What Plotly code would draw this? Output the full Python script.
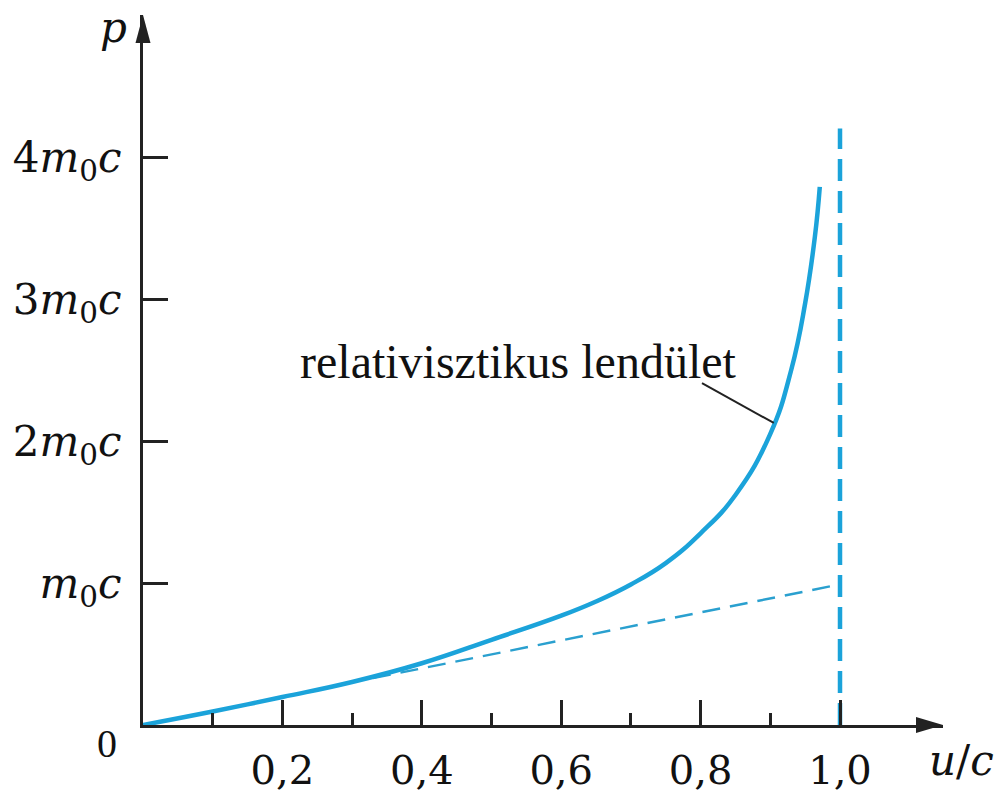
import plotly.graph_objects as go

# ---- data ----
u_rel = [0.0, 0.1, 0.2, 0.3, 0.4, 0.5, 0.6, 0.65, 0.7, 0.75, 0.8, 0.85, 0.9, 0.93, 0.95, 0.964, 0.971]
p_rel = [0.0, 0.095, 0.197, 0.303, 0.435, 0.6, 0.77, 0.87, 0.99, 1.14, 1.35, 1.62, 2.05, 2.5, 2.97, 3.44, 3.79]

u_cls = [0.33, 1.0]
p_cls = [0.33, 0.99]

u_lim = [1.0, 1.0]
p_lim = [0.0, 4.2]

x_tickvals = [0.2, 0.4, 0.6, 0.8, 1.0]
x_ticktext = ["0,2", "0,4", "0,6", "0,8", "1,0"]
x_minorvals = [0.1, 0.3, 0.5, 0.7, 0.9]
y_tickvals = [1, 2, 3, 4]
y_ticktext = ["<i>m</i><sub>0</sub><i>c</i>", "2<i>m</i><sub>0</sub><i>c</i>",
              "3<i>m</i><sub>0</sub><i>c</i>", "4<i>m</i><sub>0</sub><i>c</i>"]

label_text = "relativisztikus lendület"
label_pt = (0.802, 2.408)
label_end = (0.905, 2.127)

BLUE = "#1BA3DA"
INK = "#222222"
MATH = "DejaVu Serif"
X_MAX = 800 / 697
Y_MAX = 710 / 142

fig = go.Figure()
fig.add_trace(go.Scatter(x=u_cls, y=p_cls, mode="lines",
                         line=dict(color="#2AA0CF", width=2.4, dash="18px,10px"),
                         hoverinfo="skip"))
fig.add_trace(go.Scatter(x=u_lim, y=p_lim, mode="lines",
                         line=dict(color=BLUE, width=4.5, dash="22px,10px"),
                         hoverinfo="skip"))
fig.add_trace(go.Scatter(x=u_rel, y=p_rel, mode="lines",
                         line=dict(color=BLUE, width=4.5, shape="spline", smoothing=1.3),
                         hoverinfo="skip"))

fig.add_shape(type="line", xref="x", yref="y",
              x0=label_pt[0], y0=label_pt[1], x1=label_end[0], y1=label_end[1],
              line=dict(color=INK, width=2))

# arrow heads
fig.add_shape(type="path", xref="paper", yref="paper", xsizemode="pixel", ysizemode="pixel",
              xanchor=1, yanchor=0, path="M 0 0 L -27 8 L -27 -8 Z",
              fillcolor=INK, line=dict(width=0))
fig.add_shape(type="path", xref="paper", yref="paper", xsizemode="pixel", ysizemode="pixel",
              xanchor=0, yanchor=1, path="M 0 0 L -7.5 -28 L 7.5 -28 Z",
              fillcolor=INK, line=dict(width=0))

fig.add_annotation(x=label_pt[0], y=label_pt[1], xref="x", yref="y",
                   text=label_text, showarrow=False, xanchor="right", yanchor="bottom",
                   xshift=37, yshift=-7,
                   font=dict(family="Liberation Serif", size=48, color="#111"))
fig.add_annotation(x=0, y=1, xref="paper", yref="paper", text="<i>p</i>", showarrow=False,
                   xanchor="right", yanchor="middle", xshift=-14, yshift=-12,
                   font=dict(family=MATH, size=42, color="#111"))
fig.add_annotation(x=1, y=0, xref="paper", yref="paper", text="<i>u</i>/<i>c</i>", showarrow=False,
                   xanchor="left", yanchor="middle", xshift=-16, yshift=-35,
                   font=dict(family=MATH, size=42, color="#111"))
fig.add_annotation(x=0, y=0, xref="paper", yref="paper", text="0", showarrow=False,
                   xanchor="center", yanchor="middle", xshift=-36, yshift=-18,
                   font=dict(family="Liberation Serif", size=40, color="#111"))

fig.update_layout(
    width=1007, height=795,
    margin=dict(l=143, r=64, t=15, b=70),
    paper_bgcolor="white", plot_bgcolor="white",
    showlegend=False,
    xaxis=dict(range=[0, X_MAX], showgrid=False, zeroline=False, automargin=False,
               showline=True, linecolor=INK, linewidth=3,
               tickmode="array", tickvals=x_tickvals, ticktext=x_ticktext,
               ticks="inside", ticklen=25, tickwidth=3, tickcolor=INK,
               minor=dict(tickmode="array", tickvals=x_minorvals, ticks="inside",
                          ticklen=12, tickwidth=3, tickcolor=INK, showgrid=False),
               tickfont=dict(family=MATH, size=40, color="#111"),
               ticklabelstandoff=8),
    yaxis=dict(range=[0, Y_MAX], showgrid=False, zeroline=False, automargin=False,
               showline=True, linecolor=INK, linewidth=3,
               tickmode="array", tickvals=y_tickvals, ticktext=y_ticktext,
               ticks="inside", ticklen=25, tickwidth=3, tickcolor=INK,
               tickfont=dict(family=MATH, size=42, color="#111"),
               ticklabelstandoff=10),
)

fig.write_html("out.html")
